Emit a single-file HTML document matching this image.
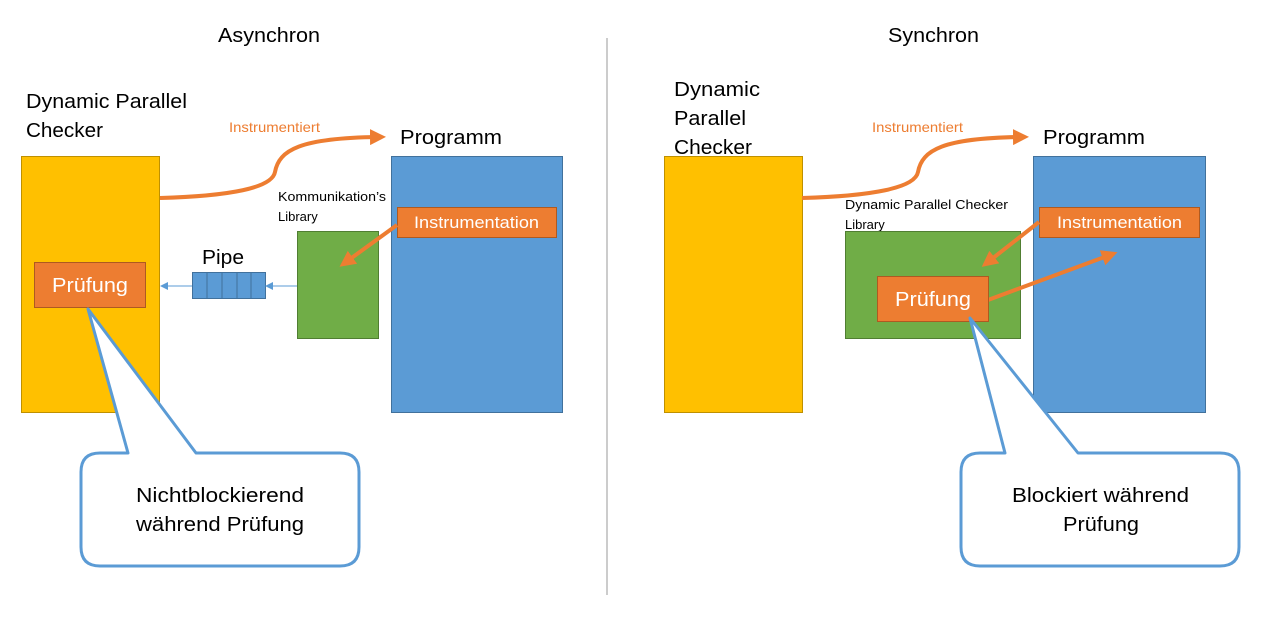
<!DOCTYPE html>
<html><head><meta charset="utf-8"><style>
html,body{margin:0;padding:0;background:#fff;}
svg{display:block;font-family:"Liberation Sans",sans-serif;}
</style></head><body>
<svg width="1264" height="633" viewBox="0 0 1264 633" xmlns="http://www.w3.org/2000/svg">
<defs>
<marker id="ao" markerWidth="4" markerHeight="4" refX="2" refY="2" orient="auto" markerUnits="strokeWidth"><path d="M0,0 L4,2 L0,4 Z" fill="#ED7D31"/></marker>
<marker id="ab" markerWidth="8" markerHeight="8" refX="6" refY="4" orient="auto" markerUnits="userSpaceOnUse"><path d="M0,0 L8,4 L0,8 Z" fill="#5B9BD5"/></marker>
</defs>
<line x1="607" y1="38" x2="607" y2="595" stroke="#999" stroke-width="1"/>
<text x="218" y="42" font-size="20" textLength="102" lengthAdjust="spacingAndGlyphs">Asynchron</text>
<text x="888" y="42" font-size="20" textLength="91" lengthAdjust="spacingAndGlyphs">Synchron</text>

<!-- LEFT -->
<text x="26" y="108" font-size="20" textLength="161" lengthAdjust="spacingAndGlyphs">Dynamic Parallel</text>
<text x="26" y="137" font-size="20" textLength="77" lengthAdjust="spacingAndGlyphs">Checker</text>
<rect x="21.5" y="156.5" width="138" height="256" fill="#FFC000" stroke="#BF9000"/>
<rect x="391.5" y="156.5" width="171" height="256" fill="#5B9BD5" stroke="#41719C"/>
<text x="400" y="144" font-size="20" textLength="102" lengthAdjust="spacingAndGlyphs">Programm</text>
<text x="229" y="132" font-size="14" fill="#ED7D31" textLength="91" lengthAdjust="spacingAndGlyphs">Instrumentiert</text>
<path d="M160,198 C230,196 272,188 275,172 C279,150 300,138 378,137" fill="none" stroke="#ED7D31" stroke-width="4" marker-end="url(#ao)"/>
<text x="278" y="201" font-size="13" textLength="108" lengthAdjust="spacingAndGlyphs">Kommunikation’s</text>
<text x="278" y="221" font-size="13">Library</text>
<rect x="297.5" y="231.5" width="81" height="107" fill="#70AD47" stroke="#507E32"/>
<rect x="397.5" y="207.5" width="159" height="30" fill="#ED7D31" stroke="#AE5A21"/>
<text x="414" y="228" font-size="17" fill="#fff" textLength="125" lengthAdjust="spacingAndGlyphs">Instrumentation</text>
<line x1="397" y1="225" x2="346" y2="262" stroke="#ED7D31" stroke-width="4" marker-end="url(#ao)"/>
<text x="202" y="264" font-size="20" textLength="42" lengthAdjust="spacingAndGlyphs">Pipe</text>
<rect x="192.5" y="272.5" width="73" height="26" fill="#5B9BD5" stroke="#41719C"/>
<g stroke="#41719C"><line x1="207" y1="272" x2="207" y2="298"/><line x1="222" y1="272" x2="222" y2="298"/><line x1="237" y1="272" x2="237" y2="298"/><line x1="251" y1="272" x2="251" y2="298"/></g>
<line x1="297" y1="286" x2="267" y2="286" stroke="#5B9BD5" marker-end="url(#ab)"/>
<line x1="192" y1="286" x2="162" y2="286" stroke="#5B9BD5" marker-end="url(#ab)"/>
<rect x="34.5" y="262.5" width="111" height="45" fill="#ED7D31" stroke="#AE5A21"/>
<text x="52" y="292" font-size="20" fill="#fff" textLength="76" lengthAdjust="spacingAndGlyphs">Prüfung</text>
<path d="M128,453 L88,309 L196,453 L340,453 Q359,453 359,472 L359,547 Q359,566 340,566 L100,566 Q81,566 81,547 L81,472 Q81,453 100,453 Z" fill="#fff" stroke="#5B9BD5" stroke-width="3" stroke-linejoin="round"/>
<text x="136" y="502" font-size="20" textLength="168" lengthAdjust="spacingAndGlyphs">Nichtblockierend</text>
<text x="136" y="531" font-size="20" textLength="168" lengthAdjust="spacingAndGlyphs">während Prüfung</text>

<!-- RIGHT -->
<text x="674" y="96" font-size="20" textLength="86" lengthAdjust="spacingAndGlyphs">Dynamic</text>
<text x="674" y="125" font-size="20" textLength="72" lengthAdjust="spacingAndGlyphs">Parallel</text>
<text x="674" y="154" font-size="20" textLength="78" lengthAdjust="spacingAndGlyphs">Checker</text>
<rect x="664.5" y="156.5" width="138" height="256" fill="#FFC000" stroke="#BF9000"/>
<rect x="1033.5" y="156.5" width="172" height="256" fill="#5B9BD5" stroke="#41719C"/>
<text x="1043" y="144" font-size="20" textLength="102" lengthAdjust="spacingAndGlyphs">Programm</text>
<text x="872" y="132" font-size="14" fill="#ED7D31" textLength="91" lengthAdjust="spacingAndGlyphs">Instrumentiert</text>
<path d="M802,198 C872,196 915,188 918,172 C922,150 943,138 1021,137" fill="none" stroke="#ED7D31" stroke-width="4" marker-end="url(#ao)"/>
<text x="845" y="209" font-size="13" textLength="163" lengthAdjust="spacingAndGlyphs">Dynamic Parallel Checker</text>
<text x="845" y="229" font-size="13">Library</text>
<rect x="845.5" y="231.5" width="175" height="107" fill="#70AD47" stroke="#507E32"/>
<rect x="1039.5" y="207.5" width="160" height="30" fill="#ED7D31" stroke="#AE5A21"/>
<text x="1057" y="228" font-size="17" fill="#fff" textLength="125" lengthAdjust="spacingAndGlyphs">Instrumentation</text>
<line x1="1039" y1="222" x2="988" y2="262" stroke="#ED7D31" stroke-width="4" marker-end="url(#ao)"/>
<line x1="988" y1="300" x2="1110" y2="255" stroke="#ED7D31" stroke-width="4" marker-end="url(#ao)"/>
<rect x="877.5" y="276.5" width="111" height="45" fill="#ED7D31" stroke="#AE5A21"/>
<text x="895" y="306" font-size="20" fill="#fff" textLength="76" lengthAdjust="spacingAndGlyphs">Prüfung</text>
<path d="M1005,453 L970,318 L1078,453 L1220,453 Q1239,453 1239,472 L1239,547 Q1239,566 1220,566 L980,566 Q961,566 961,547 L961,472 Q961,453 980,453 Z" fill="#fff" stroke="#5B9BD5" stroke-width="3" stroke-linejoin="round"/>
<text x="1012" y="502" font-size="20" textLength="177" lengthAdjust="spacingAndGlyphs">Blockiert während</text>
<text x="1063" y="531" font-size="20" textLength="76" lengthAdjust="spacingAndGlyphs">Prüfung</text>
</svg>
</body></html>
